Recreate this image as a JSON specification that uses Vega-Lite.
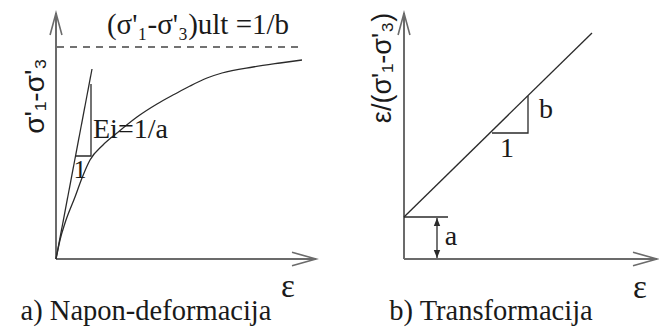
{
  "$schema": "https://vega.github.io/schema/vega-lite/v6.json",
  "padding": 0,
  "spacing": 0,
  "background": "white",
  "config": {"view": {"stroke": null}},
  "datasets": {
    "leftLines": [
      {"id": "ay", "kind": "axis", "o": 0, "x": 0, "y": 0},
      {"id": "ay", "kind": "axis", "o": 1, "x": 0, "y": 246},
      {"id": "ax", "kind": "axis", "o": 0, "x": 0, "y": 0},
      {"id": "ax", "kind": "axis", "o": 1, "x": 260, "y": 0},
      {"id": "d", "kind": "dash", "o": 0, "x": 1, "y": 212},
      {"id": "d", "kind": "dash", "o": 1, "x": 246, "y": 212},
      {"id": "c", "kind": "hyper", "o": 0, "x": 0, "y": 0},
      {"id": "c", "kind": "hyper", "o": 1, "x": 4, "y": 19},
      {"id": "c", "kind": "hyper", "o": 2, "x": 9, "y": 36},
      {"id": "c", "kind": "hyper", "o": 3, "x": 19, "y": 62},
      {"id": "c", "kind": "hyper", "o": 4, "x": 26, "y": 81},
      {"id": "c", "kind": "hyper", "o": 5, "x": 34, "y": 99},
      {"id": "c", "kind": "hyper", "o": 6, "x": 47, "y": 114},
      {"id": "c", "kind": "hyper", "o": 7, "x": 61, "y": 126},
      {"id": "c", "kind": "hyper", "o": 8, "x": 81, "y": 142},
      {"id": "c", "kind": "hyper", "o": 9, "x": 101, "y": 155},
      {"id": "c", "kind": "hyper", "o": 10, "x": 119, "y": 165},
      {"id": "c", "kind": "hyper", "o": 11, "x": 134, "y": 173},
      {"id": "c", "kind": "hyper", "o": 12, "x": 151, "y": 181},
      {"id": "c", "kind": "hyper", "o": 13, "x": 166, "y": 186},
      {"id": "c", "kind": "hyper", "o": 14, "x": 197, "y": 192},
      {"id": "c", "kind": "hyper", "o": 15, "x": 224, "y": 196},
      {"id": "c", "kind": "hyper", "o": 16, "x": 246, "y": 199},
      {"id": "t", "kind": "curve", "o": 0, "x": 0, "y": 0},
      {"id": "t", "kind": "curve", "o": 1, "x": 36, "y": 190},
      {"id": "tr", "kind": "curve", "o": 0, "x": 20, "y": 103},
      {"id": "tr", "kind": "curve", "o": 1, "x": 35, "y": 103},
      {"id": "tr", "kind": "curve", "o": 2, "x": 35, "y": 175}
    ],
    "leftArrows": [
      {"dir": "up", "x": 0, "y": 246},
      {"dir": "right", "x": 260, "y": 0}
    ],
    "leftText": [
      {"role": "ult", "label": "(σ'₁-σ'₃)ult =1/b", "x": 142, "y": 234},
      {"role": "ei", "label": "Ei=1/a", "x": 37, "y": 129},
      {"role": "one", "label": "1", "x": 24, "y": 89},
      {"role": "eps", "label": "ε", "x": 232, "y": -28},
      {"role": "title", "label": "a) Napon-deformacija", "x": 90, "y": -52},
      {"role": "ylab", "label": "σ'₁-σ'₃", "x": -20, "y": 163}
    ],
    "rightLines": [
      {"id": "ay", "kind": "axis", "o": 0, "x": 0, "y": 0},
      {"id": "ay", "kind": "axis", "o": 1, "x": 0, "y": 246},
      {"id": "ax", "kind": "axis", "o": 0, "x": 0, "y": 0},
      {"id": "ax", "kind": "axis", "o": 1, "x": 253, "y": 0},
      {"id": "l", "kind": "curve", "o": 0, "x": 0, "y": 42},
      {"id": "l", "kind": "curve", "o": 1, "x": 188, "y": 226},
      {"id": "tr", "kind": "curve", "o": 0, "x": 88, "y": 126},
      {"id": "tr", "kind": "curve", "o": 1, "x": 124, "y": 126},
      {"id": "tr", "kind": "curve", "o": 2, "x": 124, "y": 163},
      {"id": "dh", "kind": "curve", "o": 0, "x": 0, "y": 42},
      {"id": "dh", "kind": "curve", "o": 1, "x": 44, "y": 42},
      {"id": "dv", "kind": "curve", "o": 0, "x": 33, "y": 1},
      {"id": "dv", "kind": "curve", "o": 1, "x": 33, "y": 41}
    ],
    "rightArrows": [
      {"dir": "up", "x": 0, "y": 246},
      {"dir": "right", "x": 253, "y": 0}
    ],
    "rightSmall": [
      {"dir": "up", "x": 33, "y": 41},
      {"dir": "down", "x": 33, "y": 1}
    ],
    "rightText": [
      {"role": "b", "label": "b", "x": 142, "y": 149},
      {"role": "one", "label": "1", "x": 103, "y": 110},
      {"role": "a", "label": "a", "x": 47, "y": 22},
      {"role": "eps", "label": "ε", "x": 236, "y": -29},
      {"role": "title", "label": "b) Transformacija", "x": 87, "y": -52},
      {"role": "ylab", "label": "ε/(σ'₁-σ'₃)", "x": -21, "y": 191}
    ]
  },
  "hconcat": [
    {
      "width": 330,
      "height": 328,
      "encoding": {
        "x": {"field": "x", "type": "quantitative", "scale": {"domain": [-56, 274], "nice": false, "zero": false}, "axis": null},
        "y": {"field": "y", "type": "quantitative", "scale": {"domain": [-69, 259], "nice": false, "zero": false}, "axis": null}
      },
      "layer": [
        {
          "data": {"name": "leftLines"},
          "transform": [{"filter": "datum.kind === 'axis'"}],
          "mark": {"type": "line", "color": "#6b6b6b", "strokeWidth": 2},
          "encoding": {"detail": {"field": "id"}, "order": {"field": "o"}}
        },
        {
          "data": {"name": "leftLines"},
          "transform": [{"filter": "datum.kind === 'dash'"}],
          "mark": {"type": "line", "color": "#444444", "strokeWidth": 1.3, "strokeDash": [7, 6]},
          "encoding": {"detail": {"field": "id"}, "order": {"field": "o"}}
        },
        {
          "data": {"name": "leftLines"},
          "transform": [{"filter": "datum.kind === 'hyper'"}],
          "mark": {"type": "line", "color": "#2a2a2a", "strokeWidth": 1.3, "interpolate": "monotone"},
          "encoding": {"detail": {"field": "id"}, "order": {"field": "o"}}
        },
        {
          "data": {"name": "leftLines"},
          "transform": [{"filter": "datum.kind === 'curve'"}],
          "mark": {"type": "line", "color": "#2a2a2a", "strokeWidth": 1.3},
          "encoding": {"detail": {"field": "id"}, "order": {"field": "o"}}
        },
        {
          "data": {"name": "leftArrows"},
          "transform": [{"filter": "datum.dir === 'up'"}],
          "mark": {"type": "point", "shape": "M-0.27,1L0,0L0.27,1", "filled": false, "size": 1936, "stroke": "#6b6b6b", "strokeWidth": 1.6, "opacity": 1}
        },
        {
          "data": {"name": "leftArrows"},
          "transform": [{"filter": "datum.dir === 'right'"}],
          "mark": {"type": "point", "shape": "M-1,-0.28L0,0L-1,0.28", "filled": false, "size": 2304, "stroke": "#6b6b6b", "strokeWidth": 1.6, "opacity": 1}
        },
        {
          "data": {"name": "leftText"},
          "transform": [{"filter": "datum.role === 'ult'"}],
          "mark": {"type": "text", "font": "Liberation Serif", "fontSize": 29, "color": "#1a1a1a", "align": "center", "baseline": "middle"},
          "encoding": {"text": {"field": "label"}}
        },
        {
          "data": {"name": "leftText"},
          "transform": [{"filter": "datum.role === 'title'"}],
          "mark": {"type": "text", "font": "Liberation Serif", "fontSize": 28.5, "color": "#1a1a1a", "align": "center", "baseline": "middle"},
          "encoding": {"text": {"field": "label"}}
        },
        {
          "data": {"name": "leftText"},
          "transform": [{"filter": "datum.role === 'ei'"}],
          "mark": {"type": "text", "font": "Liberation Serif", "fontSize": 28, "color": "#1a1a1a", "align": "left", "baseline": "middle"},
          "encoding": {"text": {"field": "label"}}
        },
        {
          "data": {"name": "leftText"},
          "transform": [{"filter": "datum.role === 'one'"}],
          "mark": {"type": "text", "font": "Liberation Serif", "fontSize": 26, "color": "#1a1a1a", "align": "center", "baseline": "middle"},
          "encoding": {"text": {"field": "label"}}
        },
        {
          "data": {"name": "leftText"},
          "transform": [{"filter": "datum.role === 'eps'"}],
          "mark": {"type": "text", "font": "Liberation Serif", "fontSize": 33, "color": "#1a1a1a", "align": "center", "baseline": "middle"},
          "encoding": {"text": {"field": "label"}}
        },
        {
          "data": {"name": "leftText"},
          "transform": [{"filter": "datum.role === 'ylab'"}],
          "mark": {"type": "text", "font": "Liberation Sans", "fontSize": 28, "color": "#1a1a1a", "align": "center", "baseline": "middle", "angle": 270},
          "encoding": {"text": {"field": "label"}}
        }
      ]
    },
    {
      "width": 329,
      "height": 328,
      "encoding": {
        "x": {"field": "x", "type": "quantitative", "scale": {"domain": [-74, 255], "nice": false, "zero": false}, "axis": null},
        "y": {"field": "y", "type": "quantitative", "scale": {"domain": [-69, 259], "nice": false, "zero": false}, "axis": null}
      },
      "layer": [
        {
          "data": {"name": "rightLines"},
          "transform": [{"filter": "datum.kind === 'axis'"}],
          "mark": {"type": "line", "color": "#6b6b6b", "strokeWidth": 2},
          "encoding": {"detail": {"field": "id"}, "order": {"field": "o"}}
        },
        {
          "data": {"name": "rightLines"},
          "transform": [{"filter": "datum.kind === 'curve'"}],
          "mark": {"type": "line", "color": "#2a2a2a", "strokeWidth": 1.3},
          "encoding": {"detail": {"field": "id"}, "order": {"field": "o"}}
        },
        {
          "data": {"name": "rightArrows"},
          "transform": [{"filter": "datum.dir === 'up'"}],
          "mark": {"type": "point", "shape": "M-0.27,1L0,0L0.27,1", "filled": false, "size": 1936, "stroke": "#6b6b6b", "strokeWidth": 1.6, "opacity": 1}
        },
        {
          "data": {"name": "rightArrows"},
          "transform": [{"filter": "datum.dir === 'right'"}],
          "mark": {"type": "point", "shape": "M-1,-0.28L0,0L-1,0.28", "filled": false, "size": 2304, "stroke": "#6b6b6b", "strokeWidth": 1.6, "opacity": 1}
        },
        {
          "data": {"name": "rightSmall"},
          "transform": [{"filter": "datum.dir === 'up'"}],
          "mark": {"type": "point", "shape": "M0,0L-0.4,1L0.4,1Z", "filled": true, "size": 256, "color": "#2a2a2a", "opacity": 1}
        },
        {
          "data": {"name": "rightSmall"},
          "transform": [{"filter": "datum.dir === 'down'"}],
          "mark": {"type": "point", "shape": "M0,0L-0.4,-1L0.4,-1Z", "filled": true, "size": 256, "color": "#2a2a2a", "opacity": 1}
        },
        {
          "data": {"name": "rightText"},
          "transform": [{"filter": "datum.role === 'b' || datum.role === 'one' || datum.role === 'a'"}],
          "mark": {"type": "text", "font": "Liberation Serif", "fontSize": 28, "color": "#1a1a1a", "align": "center", "baseline": "middle"},
          "encoding": {"text": {"field": "label"}}
        },
        {
          "data": {"name": "rightText"},
          "transform": [{"filter": "datum.role === 'title'"}],
          "mark": {"type": "text", "font": "Liberation Serif", "fontSize": 28.5, "color": "#1a1a1a", "align": "center", "baseline": "middle"},
          "encoding": {"text": {"field": "label"}}
        },
        {
          "data": {"name": "rightText"},
          "transform": [{"filter": "datum.role === 'eps'"}],
          "mark": {"type": "text", "font": "Liberation Serif", "fontSize": 33, "color": "#1a1a1a", "align": "center", "baseline": "middle"},
          "encoding": {"text": {"field": "label"}}
        },
        {
          "data": {"name": "rightText"},
          "transform": [{"filter": "datum.role === 'ylab'"}],
          "mark": {"type": "text", "font": "Liberation Sans", "fontSize": 27, "color": "#1a1a1a", "align": "center", "baseline": "middle", "angle": 270},
          "encoding": {"text": {"field": "label"}}
        }
      ]
    }
  ]
}
